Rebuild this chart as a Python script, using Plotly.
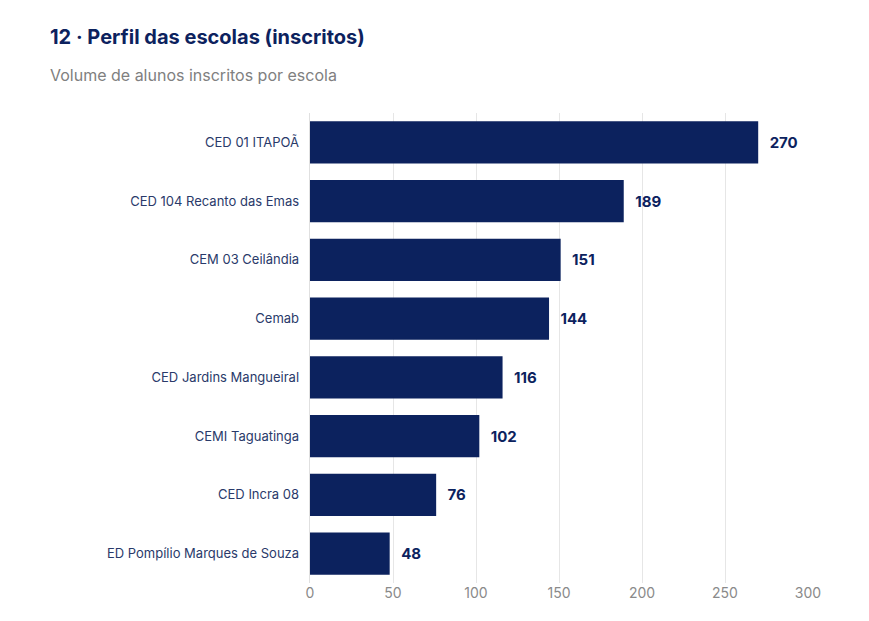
import plotly.graph_objects as go

escolas = ["CED 01 ITAPOÃ", "CED 104 Recanto das Emas", "CEM 03 Ceilândia", "Cemab",
           "CED Jardins Mangueiral", "CEMI Taguatinga", "CED Incra 08",
           "ED Pompílio Marques de Souza"]
inscritos = [270, 189, 151, 144, 116, 102, 76, 48]
ticks = [0, 50, 100, 150, 200, 250, 300]

navy = "#0c225e"

fig = go.Figure(go.Bar(
    x=inscritos,
    y=escolas,
    orientation="h",
    marker=dict(color=navy, line=dict(width=0)),
    text=["  <b>%d</b>" % v for v in inscritos],
    textposition="outside",
    textfont=dict(size=15, color=navy, family="Inter"),
    cliponaxis=False,
))

fig.update_layout(
    width=869, height=621,
    paper_bgcolor="white", plot_bgcolor="white",
    margin=dict(l=302, r=69, t=105, b=46),
    bargap=0.28,
    font=dict(family="Inter", color=navy),
    xaxis=dict(range=[0, 300], tickvals=ticks, showgrid=True, gridcolor="#e6e6e6",
               zeroline=False, tickfont=dict(size=14, color="#8a8a8a"), ticks=""),
    yaxis=dict(autorange="reversed", ticksuffix="  ", showgrid=False,
               tickfont=dict(size=13, color="#2a3a6a"), showline=True,
               linecolor="#e0e0e0"),
    showlegend=False,
)

fig.add_annotation(text="<b>12 · Perfil das escolas (inscritos)</b>", xref="paper", yref="paper",
                   x=-262/498, y=1 + 90/470, xanchor="left", yanchor="top", showarrow=False,
                   font=dict(size=20, color=navy))
fig.add_annotation(text="Volume de alunos inscritos por escola", xref="paper", yref="paper",
                   x=-262/498, y=1 + 50/470, xanchor="left", yanchor="top", showarrow=False,
                   font=dict(size=16, color="#808080"))

fig.write_html("out.html")
